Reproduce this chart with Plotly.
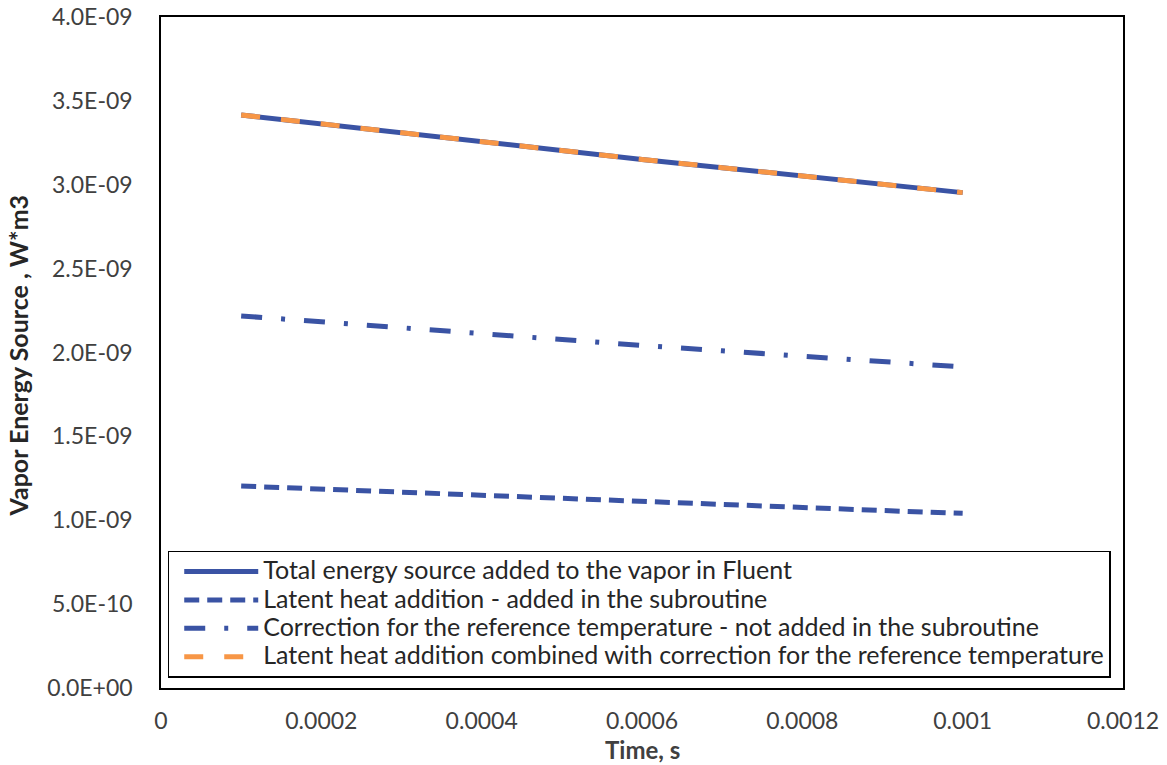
import plotly.graph_objects as go

# Time steps (s)
time_s = [0.0001, 0.0002, 0.0003, 0.0004, 0.0005, 0.0006, 0.0007, 0.0008, 0.0009, 0.001]

# Vapor energy source series (W*m3)
total_fluent = [3.416e-09, 3.362e-09, 3.309e-09, 3.255e-09, 3.201e-09,
                3.151e-09, 3.102e-09, 3.052e-09, 3.002e-09, 2.953e-09]
latent_heat = [1.204e-09, 1.185e-09, 1.166e-09, 1.147e-09, 1.128e-09,
               1.111e-09, 1.094e-09, 1.076e-09, 1.058e-09, 1.041e-09]
ref_temp_correction = [2.218e-09, 2.182e-09, 2.146e-09, 2.110e-09, 2.074e-09,
                       2.042e-09, 2.010e-09, 1.978e-09, 1.945e-09, 1.914e-09]
latent_plus_correction = [3.416e-09, 3.362e-09, 3.309e-09, 3.255e-09, 3.201e-09,
                          3.151e-09, 3.102e-09, 3.052e-09, 3.002e-09, 2.953e-09]

series_names = [
    "Total energy source added to the vapor in Fluent",
    "Latent heat addition - added in the subroutine",
    "Correction for the reference temperature - not added in the subroutine",
    "Latent heat addition combined with correction for the reference temperature",
]

# Axis ticks
x_tickvals = [0, 0.0002, 0.0004, 0.0006, 0.0008, 0.001, 0.0012]
x_ticktext = ["0", "0.0002", "0.0004", "0.0006", "0.0008", "0.001", "0.0012"]
y_tickvals = [0, 5e-10, 1e-09, 1.5e-09, 2e-09, 2.5e-09, 3e-09, 3.5e-09, 4e-09]
y_ticktext = ["0.0E+00", "5.0E-10", "1.0E-09", "1.5E-09", "2.0E-09",
              "2.5E-09", "3.0E-09", "3.5E-09", "4.0E-09"]

x_title = "Time, s"
y_title = "Vapor Energy Source , W*m3"

BLUE = "#3A53A4"
ORANGE = "#F79646"
FONT = "Lato"


def legend_label(text):
    # larger glyphs than the legend row font, keeping rows compact
    return f'<span style="font-size:25px">{text}</span>'


fig = go.Figure()
fig.add_trace(go.Scatter(x=time_s, y=total_fluent, mode="lines",
                         name=legend_label(series_names[0]),
                         line=dict(color=BLUE, width=5)))
fig.add_trace(go.Scatter(x=time_s, y=latent_heat, mode="lines",
                         name=legend_label(series_names[1]),
                         line=dict(color=BLUE, width=5, dash="15px,8px")))
fig.add_trace(go.Scatter(x=time_s, y=ref_temp_correction, mode="lines",
                         name=legend_label(series_names[2]),
                         line=dict(color=BLUE, width=5, dash="21px,19px,4px,19px")))
fig.add_trace(go.Scatter(x=time_s, y=latent_plus_correction, mode="lines",
                         name=legend_label(series_names[3]),
                         line=dict(color=ORANGE, width=5, dash="19px,21px")))

fig.update_layout(
    width=1167, height=765,
    margin=dict(l=161, r=44, t=17, b=77),
    paper_bgcolor="white", plot_bgcolor="white",
    font=dict(family=FONT, color="#404040"),
    showlegend=True,
    legend=dict(
        x=0.007, y=0.015, xanchor="left", yanchor="bottom",
        bgcolor="white", bordercolor="#000000", borderwidth=1.5,
        font=dict(family=FONT, size=19.5, color="#262626"),
        itemwidth=74, tracegroupgap=0, indentation=10,
    ),
    xaxis=dict(
        range=[0, 0.0012], tickvals=x_tickvals, ticktext=x_ticktext,
        showgrid=False, zeroline=False, showline=True, linecolor="#000000",
        linewidth=1.5, mirror=True, ticks="", ticklen=0, ticklabelstandoff=12,
        automargin=False,
        tickfont=dict(family=FONT, size=23, color="#404040"),
    ),
    yaxis=dict(
        range=[0, 4e-09], tickvals=y_tickvals, ticktext=y_ticktext,
        showgrid=False, zeroline=False, showline=True, linecolor="#000000",
        linewidth=1.5, mirror=True, ticks="", ticklen=0, ticklabelstandoff=22,
        automargin=False,
        tickfont=dict(family=FONT, size=23, color="#404040"),
    ),
    annotations=[
        dict(text=f"<b>{x_title}</b>", xref="paper", yref="paper",
             x=0.5, y=-0.091, xanchor="center", yanchor="middle", showarrow=False,
             font=dict(family=FONT, size=24, color="#404040")),
        dict(text=f"<b>{y_title}</b>", xref="paper", yref="paper",
             x=-0.149, y=0.495, xanchor="center", yanchor="middle", showarrow=False,
             textangle=-90, font=dict(family=FONT, size=25, color="#262626")),
    ],
)

fig.write_html("out.html")
